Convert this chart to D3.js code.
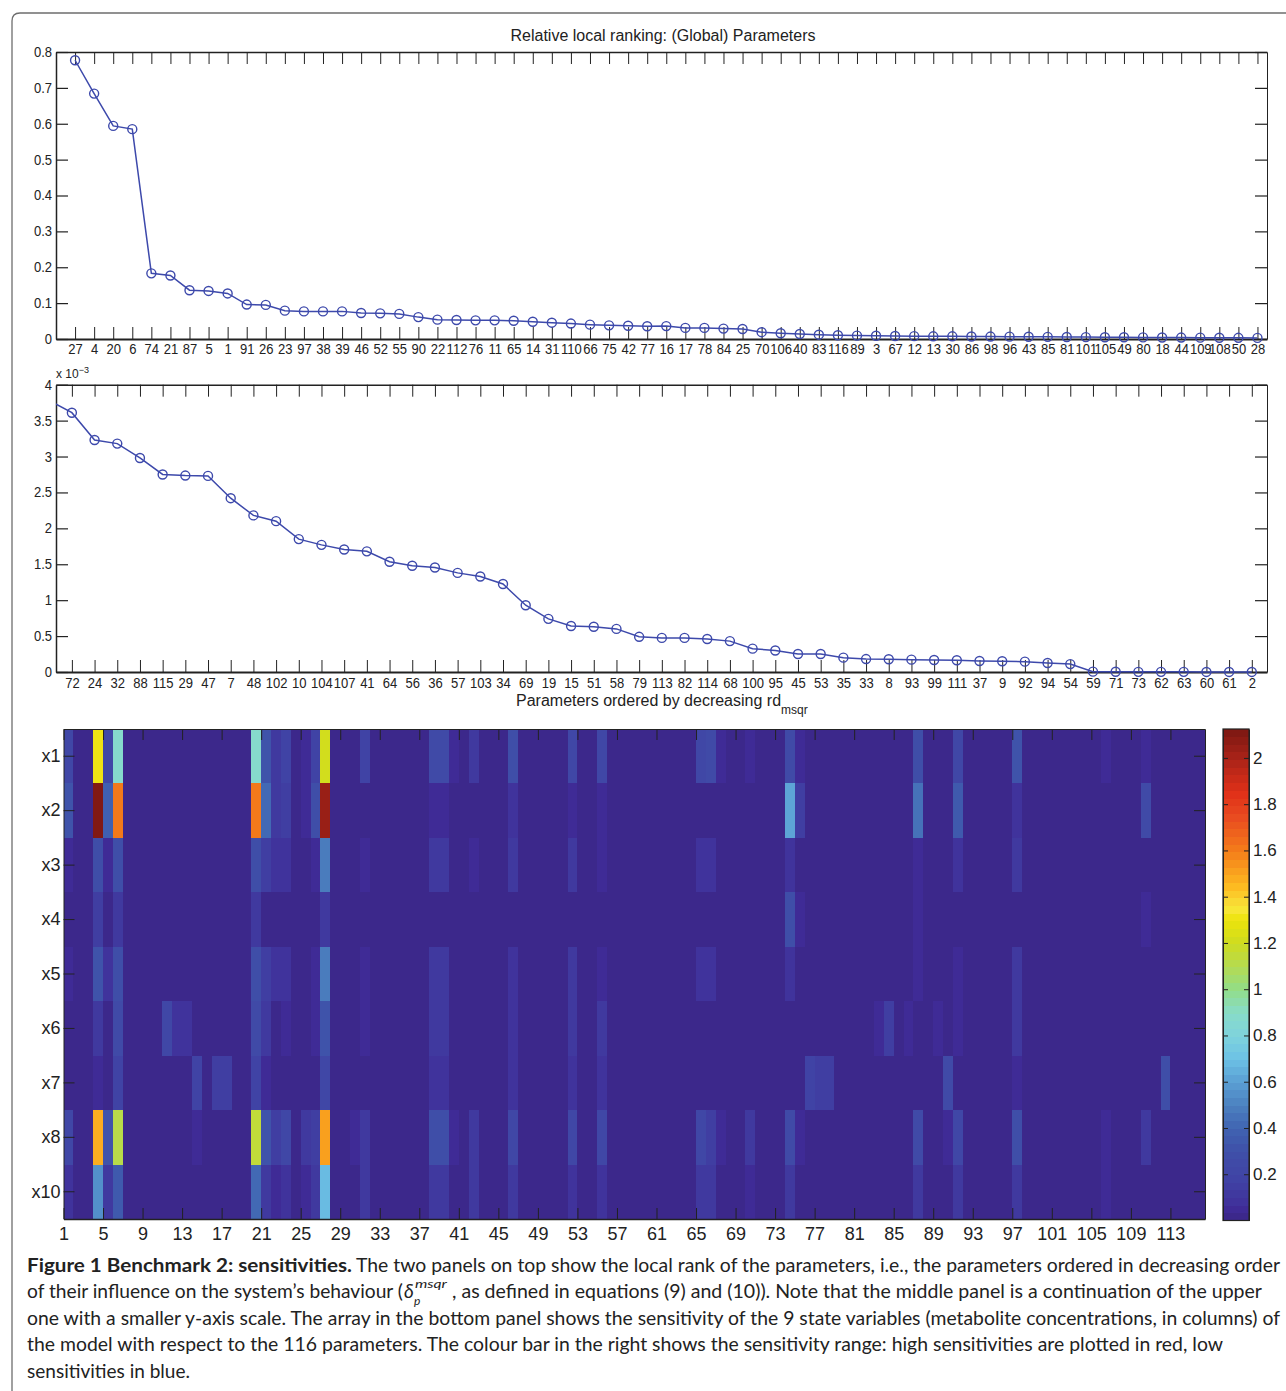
<!DOCTYPE html>
<html>
<head>
<meta charset="utf-8">
<script src="https://d3js.org/d3.v7.min.js"></script>
<style>
  html, body { margin: 0; padding: 0; background: #fff; }
  svg { display: block; }
  text { font-family: "Liberation Sans", Arial, sans-serif; fill: #222; }
  .tick line, .domain { stroke: #222; }
  .caption text, .caption tspan { font-family: Lato, "Noto Sans", sans-serif; fill: #222; }
</style>
</head>
<body>
<div id="graph"></div>
<script>
// Parameters in ranked order, upper panel
var topParams = [27, 4, 20, 6, 74, 21, 87, 5, 1, 91, 26, 23, 97, 38, 39, 46, 52, 55, 90, 22, 112, 76, 11, 65, 14,
    31, 110, 66, 75, 42, 77, 16, 17, 78, 84, 25, 70, 106, 40, 83, 116, 89, 3, 67, 12, 13, 30, 86, 98, 96, 43, 85,
    81, 101, 105, 49, 80, 18, 44, 109, 108, 50, 28];
var topValues = [0.777, 0.684, 0.594, 0.585, 0.183, 0.177, 0.136, 0.134, 0.127, 0.096, 0.095, 0.079, 0.077, 0.077,
    0.077, 0.0725, 0.0715, 0.07, 0.061, 0.054, 0.053, 0.052, 0.052, 0.051, 0.048, 0.0455, 0.043, 0.04, 0.038, 0.037,
    0.0355, 0.036, 0.031, 0.031, 0.029, 0.028, 0.019, 0.016, 0.014, 0.012, 0.0105, 0.0095, 0.009, 0.0085, 0.008,
    0.0075, 0.0075, 0.007, 0.0068, 0.0066, 0.0063, 0.006, 0.0056, 0.0053, 0.005, 0.0048, 0.0045, 0.0043, 0.004,
    0.0038, 0.0035, 0.0033, 0.003];
var topTicks = [0, 0.1, 0.2, 0.3, 0.4, 0.5, 0.6, 0.7, 0.8];

// Middle panel carries on from the upper one, values in units of 10^-3
var midParams = [72, 24, 32, 88, 115, 29, 47, 7, 48, 102, 10, 104, 107, 41, 64, 56, 36, 57, 103, 34, 69, 19, 15, 51,
    58, 79, 113, 82, 114, 68, 100, 95, 45, 53, 35, 33, 8, 93, 99, 111, 37, 9, 92, 94, 54, 59, 71, 73, 62, 63, 60, 61, 2];
var midValues = [3.61, 3.23, 3.18, 2.98, 2.75, 2.735, 2.73, 2.42, 2.18, 2.10, 1.85, 1.77, 1.705, 1.68, 1.535, 1.48,
    1.455, 1.38, 1.33, 1.225, 0.93, 0.74, 0.64, 0.63, 0.60, 0.49, 0.475, 0.475, 0.46, 0.43, 0.325, 0.30, 0.25, 0.25,
    0.20, 0.18, 0.177, 0.172, 0.167, 0.163, 0.153, 0.149, 0.144, 0.126, 0.11, 0.005, 0.003, 0.002, 0.002, 0.002,
    0.001, 0.001, 0.001];
var midLead = 3.78; // the line enters from the left edge, this value is off the axis
var midTicks = [0, 0.5, 1, 1.5, 2, 2.5, 3, 3.5, 4];

// Sensitivity array: only the cells above background, as [parameter, value]
var rowLabels = ["x1", "x2", "x3", "x4", "x5", "x6", "x7", "x8", "x10"];
var background = 0.02;
var x1 = [[1,0.2],[4,1.3],[5,0.2],[6,0.87],[20,0.87],[21,0.3],[22,0.12],[23,0.18],[25,0.05],[26,0.17],[27,1.2],
    [31,0.17],[38,0.25],[39,0.25],[40,0.05],[42,0.13],[46,0.27],[52,0.2],[55,0.22],[65,0.2],[66,0.24],[67,0.05],
    [70,0.05],[74,0.24],[75,0.05],[87,0.27],[91,0.2],[97,0.3],[106,0.05],[110,0.05]];
var x2 = [[1,0.3],[4,2.12],[5,0.38],[6,1.6],[20,1.6],[21,0.42],[22,0.13],[23,0.16],[25,0.05],[26,0.27],[27,2.03],
    [38,0.05],[39,0.05],[46,0.07],[52,0.05],[55,0.05],[74,0.6],[75,0.15],[87,0.45],[91,0.35],[97,0.07],[110,0.25]];
var x3 = [[1,0.05],[4,0.28],[5,0.05],[6,0.28],[20,0.28],[21,0.16],[22,0.07],[23,0.07],[26,0.05],[27,0.48],[31,0.05],
    [38,0.1],[39,0.1],[42,0.05],[46,0.1],[52,0.1],[55,0.05],[65,0.07],[66,0.07],[74,0.08],[87,0.05],[91,0.07],[97,0.13]];
var x4 = [[4,0.15],[6,0.1],[20,0.1],[27,0.12],[74,0.27],[75,0.05],[87,0.05],[110,0.05]];
var x5 = [[1,0.05],[4,0.3],[5,0.07],[6,0.27],[20,0.28],[21,0.15],[22,0.07],[23,0.07],[26,0.05],[27,0.48],[31,0.05],
    [38,0.1],[39,0.1],[46,0.09],[52,0.1],[55,0.05],[65,0.07],[66,0.07],[74,0.09],[87,0.05],[91,0.05],[97,0.12]];
var x6 = [[4,0.12],[6,0.25],[11,0.22],[12,0.07],[13,0.07],[20,0.24],[21,0.1],[23,0.05],[26,0.05],[27,0.3],[31,0.05],
    [38,0.1],[39,0.1],[46,0.09],[52,0.1],[55,0.1],[83,0.05],[84,0.15],[86,0.05],[89,0.05],[91,0.05],[97,0.12]];
var x7 = [[4,0.05],[6,0.18],[14,0.18],[16,0.15],[17,0.15],[20,0.17],[21,0.05],[27,0.2],[38,0.07],[39,0.07],[46,0.07],
    [52,0.07],[55,0.07],[76,0.17],[77,0.14],[78,0.14],[90,0.25],[97,0.05],[112,0.28]];
var x8 = [[1,0.2],[4,1.48],[5,0.3],[6,1.1],[14,0.05],[20,1.15],[21,0.3],[22,0.15],[23,0.2],[25,0.1],[26,0.15],[27,1.52],
    [30,0.05],[31,0.13],[38,0.27],[39,0.27],[40,0.05],[42,0.12],[46,0.2],[52,0.22],[55,0.2],[65,0.2],[66,0.15],
    [67,0.05],[70,0.1],[74,0.24],[75,0.05],[87,0.25],[90,0.05],[91,0.2],[97,0.28],[106,0.05],[110,0.1]];
var x10 = [[1,0.07],[4,0.55],[5,0.11],[6,0.35],[20,0.42],[21,0.13],[22,0.05],[23,0.08],[25,0.05],[26,0.1],[27,0.68],
    [31,0.12],[38,0.11],[39,0.11],[42,0.1],[46,0.11],[52,0.09],[55,0.09],[65,0.13],[66,0.11],[70,0.05],[74,0.12],
    [87,0.13],[91,0.12],[97,0.12],[106,0.05]];
var rowCells = [x1, x2, x3, x4, x5, x6, x7, x8, x10];
var paramTicks = d3.range(1, 114, 4);

// Colour bar
var barTicks = [0.2, 0.4, 0.6, 0.8, 1, 1.2, 1.4, 1.6, 1.8, 2];
var barMax = 2.125;
var colorStops = [0, 0.033, 0.066, 0.13, 0.2, 0.3, 0.4, 0.5, 0.6, 0.7, 0.8, 0.9, 1, 1.1, 1.2, 1.3, 1.35, 1.45, 1.6, 1.75, 1.85, 2, 2.125];
var colorValues = ["#3a2a85", "#3e2691", "#40309a", "#403ba0", "#4045a6", "#3f50a9", "#4064b2", "#4c82c0", "#5b9fd4",
    "#6cc2e5", "#7fd3dc", "#88dcc8", "#92dd88", "#b5db50", "#cfdc20", "#ece40a", "#f8e63a", "#fdb820", "#f47c1a",
    "#e84a20", "#e03018", "#a82318", "#7b1712"];

var captionLines = [
    "The two panels on top show the local rank of the parameters, i.e., the parameters ordered in decreasing order",
    ", as defined in equations (9) and (10)). Note that the middle panel is a continuation of the upper",
    "one with a smaller y-axis scale. The array in the bottom panel shows the sensitivity of the 9 state variables (metabolite concentrations, in columns) of",
    "the model with respect to the 116 parameters. The colour bar in the right shows the sensitivity range: high sensitivities are plotted in red, low",
    "sensitivities in blue."
];

var svg = d3.select("#graph").append("svg")
    .attr("width", 1286)
    .attr("height", 1391);

// Rounded figure frame
svg.append("path")
    .attr("d", "M12,1391V21Q12,13 20,13H1286")
    .attr("fill", "none")
    .attr("stroke", "#6e6e6e")
    .attr("stroke-width", 1.3);

var blue = "#3d49ab";
var plotLeft = 56, plotRight = 1267;

function drawPanel(id, labels, values, ticks, xDomain, top, bottom, labelPad, lead) {
    var x = d3.scaleLinear().domain(xDomain).range([plotLeft, plotRight]);
    var y = d3.scaleLinear().domain([0, ticks[ticks.length - 1]]).range([bottom, top]);
    var g = svg.append("g");
    var idx = d3.range(1, labels.length + 1);
    var pts = values.map(function(v, i) { return { i: i + 1, v: v }; });
    var linePts = lead === undefined ? pts : [{ i: 0, v: lead }].concat(pts);

    svg.append("clipPath").attr("id", id)
        .append("rect")
        .attr("x", plotLeft).attr("y", top)
        .attr("width", plotRight - plotLeft).attr("height", bottom - top + 2);

    var fmt = d3.format("~g");
    // tick labels in the original are a little narrower than the font
    var setFont = function(sel) {
        sel.selectAll("text").style("font-size", "14px").each(function() {
            d3.select(this)
                .attr("textLength", this.getComputedTextLength() * 0.93)
                .attr("lengthAdjust", "spacingAndGlyphs");
        });
    };

    g.append("g").attr("transform", "translate(0," + bottom + ")")
        .call(d3.axisBottom(x).tickValues(idx).tickSize(-12).tickSizeOuter(0).tickPadding(labelPad)
            .tickFormat(function(i) { return labels[i - 1]; }))
        .call(setFont)
        .call(function(s) { s.select(".domain").attr("stroke-width", 2); });
    g.append("g").attr("transform", "translate(0," + top + ")")
        .call(d3.axisTop(x).tickValues(idx).tickSize(-12).tickSizeOuter(0).tickFormat(""))
        .call(function(s) { s.select(".domain").attr("stroke-width", 1.5); });
    g.append("g").attr("transform", "translate(" + plotLeft + ",0)")
        .call(d3.axisLeft(y).tickValues(ticks).tickSize(-12).tickSizeOuter(0).tickPadding(4).tickFormat(fmt))
        .call(setFont)
        .call(function(s) {
            s.select(".domain").attr("stroke-width", 1.5);
            s.selectAll(".tick line").attr("stroke", "#555").attr("stroke-width", 1.2);
        });
    g.append("g").attr("transform", "translate(" + plotRight + ",0)")
        .call(d3.axisRight(y).tickValues(ticks).tickSize(-12).tickSizeOuter(0).tickFormat(""))
        .call(function(s) { s.selectAll(".tick line").attr("stroke", "#555").attr("stroke-width", 1.2); });

    g.append("path")
        .datum(linePts)
        .attr("clip-path", "url(#" + id + ")")
        .attr("fill", "none")
        .attr("stroke", blue)
        .attr("stroke-width", 1.5)
        .attr("d", d3.line()
            .x(function(d) { return x(d.i); })
            .y(function(d) { return y(d.v); }));

    g.selectAll("circle").data(pts).enter().append("circle")
        .attr("cx", function(d) { return x(d.i); })
        .attr("cy", function(d) { return y(d.v); })
        .attr("r", 4.5)
        .attr("fill", "none")
        .attr("stroke", blue)
        .attr("stroke-width", 1.4);
}

drawPanel("clip-top", topParams, topValues, topTicks, [0, 63.5], 52, 339, 5);
drawPanel("clip-mid", midParams, midValues, midTicks, [0.3, 53.67], 384.7, 672, 6, midLead);

// Panel texts
svg.append("text").attr("x", 663).attr("y", 41).attr("text-anchor", "middle")
    .style("font-size", "16px").text("Relative local ranking: (Global) Parameters");
var mult = svg.append("text").attr("x", 56).attr("y", 378).style("font-size", "12px");
mult.append("tspan").text("x 10");
mult.append("tspan").attr("dy", -5).style("font-size", "9px").text("−3");
var xlab = svg.append("text").attr("x", 516).attr("y", 706).style("font-size", "16px");
xlab.append("tspan").text("Parameters ordered by decreasing rd");
xlab.append("tspan").attr("dy", 8).style("font-size", "12px").text("msqr");

// Colour scale, 64 flat steps like the original colour bar
var smooth = d3.scaleLinear().domain(colorStops).range(colorValues).interpolate(d3.interpolateRgb);
var steps = d3.range(64);
var stepOf = function(v) { return Math.min(63, Math.floor(v / barMax * 64)); };
var stepColor = function(s) { return smooth((s + 0.5) / 64 * barMax); };

// Heat map
var hmLeft = 63.5, hmRight = 1205, hmTop = 729, hmBottom = 1219;
var hx = d3.scaleLinear().domain([1, 116.5]).range([hmLeft, hmRight]).clamp(true);
var hy = d3.scaleBand().domain(rowLabels).range([hmTop, hmBottom]);

var cells = [];
rowLabels.forEach(function(r, ri) {
    var found = new Map(rowCells[ri]);
    d3.range(1, 117).forEach(function(c) {
        cells.push({ row: r, col: c, v: found.has(c) ? found.get(c) : background });
    });
});

var hm = svg.append("g");
hm.selectAll("rect").data(cells).enter().append("rect")
    .attr("x", function(d) { return hx(d.col); })
    .attr("y", function(d) { return hy(d.row); })
    .attr("width", function(d) { return hx(d.col + 1) - hx(d.col) + 0.4; })
    .attr("height", hy.bandwidth() + 0.4)
    .attr("fill", function(d) { return stepColor(stepOf(d.v)); })
    .attr("shape-rendering", "crispEdges");

var hmFont = function(sel) { sel.selectAll("text").style("font-size", "18px"); };
hm.append("g").attr("transform", "translate(0," + hmBottom + ")")
    .call(d3.axisBottom(hx).tickValues(paramTicks).tickSize(-11).tickSizeOuter(0).tickPadding(8).tickFormat(d3.format("d")))
    .call(hmFont)
    .call(function(s) { s.select(".domain").attr("stroke-width", 1.5); });
hm.append("g").attr("transform", "translate(0," + hmTop + ")")
    .call(d3.axisTop(hx).tickValues(paramTicks).tickSize(-11).tickSizeOuter(0).tickFormat(""));
hm.append("g").attr("transform", "translate(" + hmLeft + ",0)")
    .call(d3.axisLeft(hy).tickSize(-11).tickSizeOuter(0).tickPadding(3))
    .call(hmFont);
hm.append("g").attr("transform", "translate(" + hmRight + ",0)")
    .call(d3.axisRight(hy).tickSize(-11).tickSizeOuter(0).tickFormat(""));

// Colour bar
var barLeft = 1223, barRight = 1249, barTop = 729, barBottom = 1220.5;
var by = d3.scaleLinear().domain([0, barMax]).range([barBottom, barTop]);
var bar = svg.append("g");
bar.selectAll("rect").data(steps).enter().append("rect")
    .attr("x", barLeft)
    .attr("y", function(s) { return by((s + 1) / 64 * barMax); })
    .attr("width", barRight - barLeft)
    .attr("height", (barBottom - barTop) / 64 + 0.4)
    .attr("fill", stepColor)
    .attr("shape-rendering", "crispEdges");
bar.append("g").attr("transform", "translate(" + barRight + ",0)")
    .call(d3.axisRight(by).tickValues(barTicks).tickSize(-5).tickSizeOuter(0).tickPadding(4).tickFormat(d3.format("~g")))
    .call(function(sel) { sel.selectAll("text").style("font-size", "17px"); });
bar.append("g").attr("transform", "translate(" + barLeft + ",0)")
    .call(d3.axisLeft(by).tickValues(barTicks).tickSize(-5).tickSizeOuter(0).tickFormat(""));
bar.append("rect")
    .attr("x", barLeft).attr("y", barTop)
    .attr("width", barRight - barLeft).attr("height", barBottom - barTop)
    .attr("fill", "none").attr("stroke", "#222").attr("stroke-width", 1.2);

// Caption, each line fitted to its width in the original
var cap = svg.append("g").attr("class", "caption").style("font-size", "19px");
function capLine(x, y, len, str) {
    return cap.append("text").attr("x", x).attr("y", y)
        .attr("textLength", len).attr("lengthAdjust", "spacingAndGlyphs").text(str);
}
capLine(27, 1272, 325, "Figure 1 Benchmark 2: sensitivities.").style("font-weight", "700");
capLine(356, 1272, 924, captionLines[0]);
capLine(27, 1298, 376, "of their influence on the system’s behaviour (");
cap.append("text").attr("x", 404).attr("y", 1298).style("font-style", "italic").text("δ");
cap.append("text").attr("x", 414).attr("y", 1305).style("font-style", "italic").style("font-size", "12px").text("p");
capLine(415, 1288, 32, "msqr").style("font-style", "italic").style("font-size", "12px");
capLine(452, 1298, 810, captionLines[1]);
capLine(27, 1325, 1253, captionLines[2]);
capLine(27, 1351, 1196, captionLines[3]);
capLine(27, 1378, 163, captionLines[4]);
</script>
</body>
</html>
